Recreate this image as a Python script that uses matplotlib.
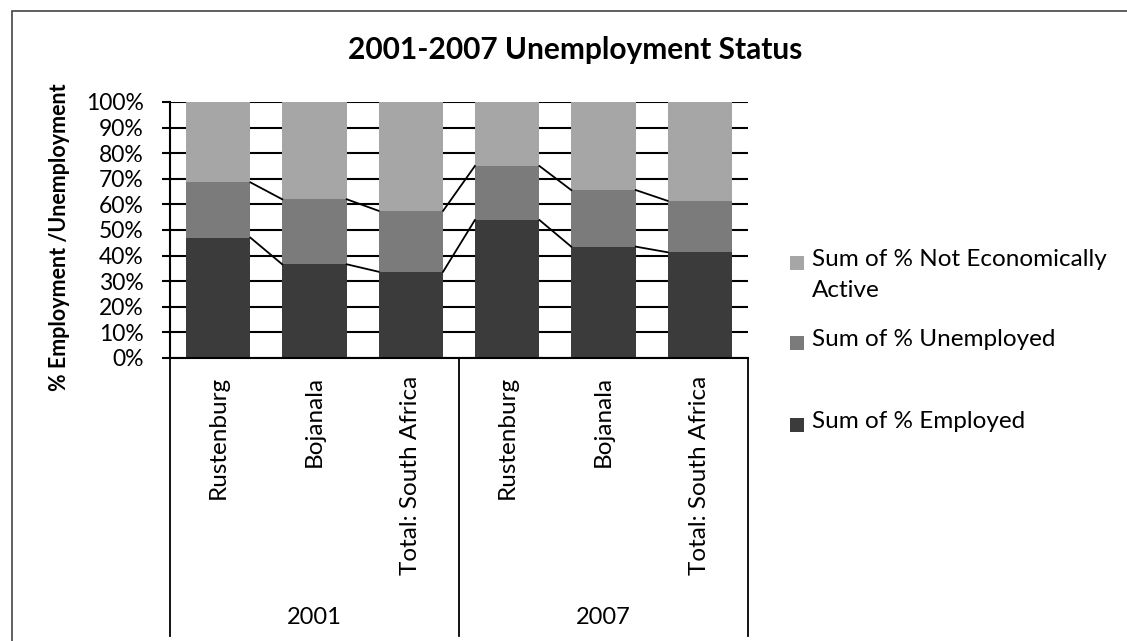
import matplotlib
matplotlib.use("Agg")
import matplotlib.pyplot as plt
import matplotlib.transforms as mtransforms
from matplotlib.patches import Rectangle
import numpy as np

plt.rcParams['font.family'] = ['Lato', 'DejaVu Sans']

# ---- data ----
categories = ["Rustenburg", "Bojanala", "Total: South Africa",
              "Rustenburg", "Bojanala", "Total: South Africa"]
years = ["2001", "2007"]
employed = [47.0, 36.6, 33.7, 53.9, 43.5, 41.3]
unemployed = [21.6, 25.4, 23.8, 21.1, 22.1, 20.1]
not_active = [31.4, 38.0, 42.5, 25.0, 34.4, 38.6]
series_labels = ["Sum of % Not Economically\nActive", "Sum of % Unemployed", "Sum of % Employed"]
title = "2001-2007 Unemployment Status"
ylabel = "% Employment /Unemployment"

c_emp = "#3b3b3b"
c_unemp = "#7b7b7b"
c_nea = "#a6a6a6"

W, H = 1127, 641
fig = plt.figure(figsize=(W / 100, H / 100), dpi=100)
fig.patch.set_facecolor("white")

# outer chart frame
fig.patches.append(Rectangle((12 / W, -0.1), 1.2, (H - 11) / H + 0.1,
                             transform=fig.transFigure, fill=False,
                             edgecolor="#444444", linewidth=1.2))

ax = fig.add_axes([170 / W, (H - 358) / H, 578 / W, 256 / H])

x = np.arange(len(categories))
width = 0.67
emp = np.array(employed)
une = np.array(unemployed)
nea = np.array(not_active)

ax.bar(x, emp, width, color=c_emp, zorder=2)
ax.bar(x, une, width, bottom=emp, color=c_unemp, zorder=2)
ax.bar(x, nea, width, bottom=emp + une, color=c_nea, zorder=2)

# series lines connecting bar tops
for cum in (emp, emp + une):
    for i in range(len(x) - 1):
        ax.plot([x[i] + width / 2, x[i + 1] - width / 2], [cum[i], cum[i + 1]],
                color="black", linewidth=1.3, zorder=3)

ax.set_xlim(-0.5, len(x) - 0.5)
ax.set_ylim(0, 100)
ax.set_yticks(np.arange(0, 101, 10))
ax.set_yticklabels([f"{v}%" for v in range(0, 101, 10)], fontsize=16.5)
ax.yaxis.grid(True, color="black", linewidth=1.5, zorder=0)
ax.set_axisbelow(True)
ax.tick_params(axis="y", length=6, width=1.5, pad=13, colors="black")
ax.set_xticks([])
for s in ("top", "right"):
    ax.spines[s].set_visible(False)
for s in ("left", "bottom"):
    ax.spines[s].set_linewidth(1.5)

# multi-level category axis
trans = mtransforms.blended_transform_factory(ax.transData, ax.transAxes)
y_bot = (358 - 636) / 256
for xv in (-0.5, 2.5, 5.5):
    ax.plot([xv, xv], [0, y_bot], transform=trans, color="black",
            linewidth=1.3, clip_on=False)
y_cat = (358 - 376) / 256
for xi, lab in zip(x, categories):
    ax.text(xi, y_cat, lab, transform=trans, rotation=90, ha="center",
            va="top", fontsize=17.5)
y_year = (358 - 618) / 256
for gi, yr in enumerate(years):
    ax.text(1 + 3 * gi, y_year, yr, transform=trans, ha="center",
            va="center", fontsize=17)

fig.text(575 / W, 1 - 50 / H, title, ha="center", va="center",
         fontsize=21.5, fontweight="bold")
fig.text(60 / W, 1 - 237 / H, ylabel, rotation=90, ha="center",
         va="center", fontsize=15.5, fontweight="bold")

# legend
leg_colors = [c_nea, c_unemp, c_emp]
leg_y = [263, 343, 425]
for lab, col, ly in zip(series_labels, leg_colors, leg_y):
    fig.patches.append(Rectangle((790 / W, 1 - (ly + 7) / H), 14 / W, 14 / H,
                                 transform=fig.transFigure, facecolor=col,
                                 edgecolor="none"))
    fig.text(812 / W, 1 - (ly - 14) / H, lab, ha="left", va="top",
             fontsize=17.5, linespacing=1.6)

fig.savefig("out.png", dpi=100, facecolor="white")
